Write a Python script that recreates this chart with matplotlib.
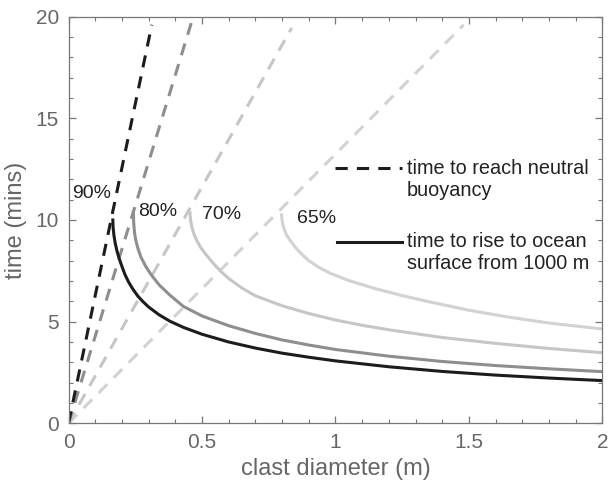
import matplotlib
matplotlib.use("Agg")
import matplotlib.pyplot as plt

plt.rcParams["font.family"] = ["Liberation Sans", "DejaVu Sans"]

# time to reach neutral buoyancy (straight dashed lines from the origin)
neutral_d = {
    "90%": [0.0, 0.312],
    "80%": [0.0, 0.467],
    "70%": [0.0, 0.836],
    "65%": [0.0, 1.48],
}
neutral_t = {
    "90%": [0.0, 19.6],
    "80%": [0.0, 20.0],
    "70%": [0.0, 19.45],
    "65%": [0.0, 19.6],
}

# time to rise to ocean surface from 1000 m (solid curves)
rise_d = {
    "90%": [0.166, 0.167, 0.17, 0.175, 0.182, 0.19, 0.2, 0.212, 0.225, 0.24,
            0.26, 0.28, 0.3, 0.34, 0.38, 0.43, 0.5, 0.6, 0.7, 0.8, 0.9, 1.0,
            1.2, 1.4, 1.6, 1.8, 2.0],
    "80%": [0.243, 0.244, 0.247, 0.252, 0.26, 0.272, 0.29, 0.31, 0.34, 0.38,
            0.43, 0.5, 0.6, 0.7, 0.8, 0.9, 1.0, 1.2, 1.4, 1.6, 1.8, 2.0],
    "70%": [0.455, 0.457, 0.462, 0.47, 0.48, 0.495, 0.515, 0.54, 0.57, 0.6,
            0.65, 0.7, 0.8, 0.9, 1.0, 1.1, 1.2, 1.4, 1.6, 1.8, 2.0],
    "65%": [0.798, 0.8, 0.805, 0.815, 0.83, 0.85, 0.875, 0.9, 0.94, 0.98,
            1.05, 1.15, 1.25, 1.35, 1.5, 1.65, 1.8, 2.0],
}
rise_t = {
    "90%": [10.0, 9.65, 9.25, 8.85, 8.45, 8.1, 7.72, 7.3, 6.95, 6.62,
            6.25, 5.97, 5.72, 5.33, 5.02, 4.72, 4.38, 4.0, 3.7, 3.45, 3.25,
            3.07, 2.78, 2.55, 2.37, 2.225, 2.10],
    "80%": [10.4, 9.9, 9.4, 9.0, 8.6, 8.15, 7.7, 7.3, 6.8, 6.3,
            5.75, 5.28, 4.8, 4.42, 4.1, 3.85, 3.63, 3.30, 3.04, 2.84, 2.68, 2.54],
    "70%": [10.35, 10.0, 9.65, 9.3, 9.0, 8.65, 8.3, 7.9, 7.48, 7.12,
            6.65, 6.27, 5.78, 5.4, 5.08, 4.82, 4.6, 4.22, 3.93, 3.68, 3.47],
    "65%": [10.25, 9.95, 9.65, 9.3, 9.0, 8.65, 8.3, 8.0, 7.65, 7.38,
            7.02, 6.62, 6.28, 5.98, 5.56, 5.22, 4.93, 4.64],
}

colors = {"90%": "#1c1c1c", "80%": "#8e8e8e", "70%": "#c6c6c6", "65%": "#d2d2d2"}
label_pos = {"90%": (0.012, 11.3), "80%": (0.26, 10.4),
             "70%": (0.499, 10.25), "65%": (0.855, 10.08)}

lw = 2.2
dash = (4.0, 3.0)

fig = plt.figure(figsize=(6.09, 4.88), dpi=100)
ax = fig.add_axes([0.1125, 0.1326, 0.8768, 0.8332])

for k in ["65%", "70%", "80%", "90%"]:
    ax.plot(neutral_d[k], neutral_t[k], color=colors[k], lw=lw,
            linestyle=(0, dash), solid_capstyle="butt")
for k in ["65%", "70%", "80%", "90%"]:
    ax.plot(rise_d[k], rise_t[k], color=colors[k], lw=lw)
    ax.text(label_pos[k][0], label_pos[k][1], k, fontsize=14, color="#222222",
            ha="left", va="center")

# key drawn inside the axes
ax.plot([0.999, 1.249], [12.54, 12.54], color="#1c1c1c", lw=lw, linestyle=(0, dash))
ax.plot([1.006, 1.248], [8.93, 8.93], color="#1c1c1c", lw=lw)
ax.text(1.267, 11.97, "time to reach neutral\nbuoyancy", fontsize=14.3,
        color="#222222", ha="left", va="center", linespacing=1.2)
ax.text(1.267, 8.38, "time to rise to ocean\nsurface from 1000 m", fontsize=14.3,
        color="#222222", ha="left", va="center", linespacing=1.2)

ax.set_xlim(0, 2)
ax.set_ylim(0, 20)
ax.set_xticks([0, 0.5, 1, 1.5, 2])
ax.set_xticklabels(["0", "0.5", "1", "1.5", "2"])
ax.set_yticks([0, 5, 10, 15, 20])
ax.set_xticks([i / 10 for i in range(21)], minor=True)
ax.set_yticks(list(range(21)), minor=True)

grey = "#777777"
for s in ax.spines.values():
    s.set_color(grey)
    s.set_linewidth(0.9)
ax.tick_params(which="both", direction="in", top=True, right=True,
               color=grey, labelcolor="#666666", labelsize=15)
ax.tick_params(which="major", length=5, width=0.9)
ax.tick_params(which="minor", length=3, width=0.8)
ax.tick_params(axis="x", pad=7)
ax.tick_params(axis="y", pad=7)

ax.set_xlabel("clast diameter (m)", fontsize=17, color="#666666", labelpad=4)
ax.set_ylabel("time (mins)", fontsize=17, color="#666666", labelpad=6)

fig.savefig("out.png", dpi=100)
